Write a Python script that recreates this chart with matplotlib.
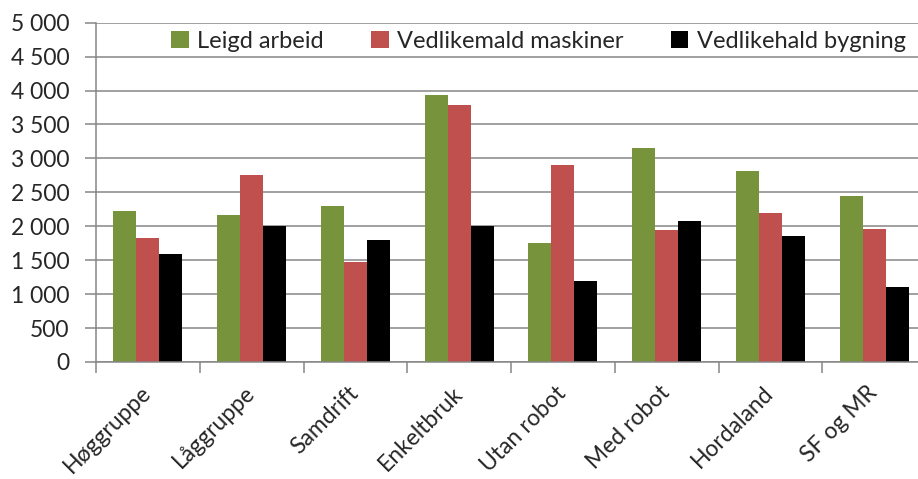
import matplotlib.pyplot as plt
import numpy as np
from matplotlib.ticker import FuncFormatter

plt.rcParams['font.family'] = ['Lato', 'DejaVu Sans']

# data
categories = ["Høggruppe", "Låggruppe", "Samdrift", "Enkeltbruk",
              "Utan robot", "Med robot", "Hordaland", "SF og MR"]
leigd_arbeid = [2230, 2170, 2300, 3940, 1760, 3150, 2810, 2440]
vedl_maskiner = [1830, 2760, 1470, 3780, 2910, 1950, 2190, 1960]
vedl_bygning = [1590, 2000, 1800, 2000, 1190, 2080, 1850, 1100]

series = [
    ("Leigd arbeid", leigd_arbeid, '#77933C'),
    ("Vedlikemald maskiner", vedl_maskiner, '#C0504D'),
    ("Vedlikehald bygning", vedl_bygning, '#000000'),
]

AX_CLR = '#868686'
TXT_CLR = '#262626'

fig = plt.figure(figsize=(9.18, 4.79), dpi=100)
fig.patch.set_facecolor('white')
ax = fig.add_axes([96 / 918, 117 / 479, 830 / 918, 339.3 / 479])

x = np.arange(len(categories))
w = 0.222
for i, (name, vals, clr) in enumerate(series):
    ax.bar(x + (i - 1) * w, vals, w, color=clr, label=name, zorder=3)

ax.set_xlim(-0.5, len(categories) - 0.5)
ax.set_ylim(0, 5000)
ax.set_yticks(np.arange(0, 5001, 500))
ax.yaxis.set_major_formatter(FuncFormatter(lambda v, p: f"{int(v):,}".replace(",", " ")))
ax.grid(axis='y', color=AX_CLR, linewidth=1.1, zorder=0)

# category labels on major ticks, boundary marks on minor ticks
ax.set_xticks(x)
ax.set_xticklabels(categories, rotation=45, ha='right', va='center',
                   rotation_mode='anchor')
ax.set_xticks(np.arange(-0.5, len(categories)), minor=True)
ax.tick_params(axis='x', which='major', length=0, pad=20, labelsize=16.5, labelcolor=TXT_CLR)
ax.tick_params(axis='x', which='minor', length=8, width=1.1, color=AX_CLR)
ax.tick_params(axis='y', length=8, width=1.1, color=AX_CLR, pad=11,
               labelsize=16.5, labelcolor=TXT_CLR)

for side in ['top', 'right']:
    ax.spines[side].set_visible(False)
for side in ['left', 'bottom']:
    ax.spines[side].set_color(AX_CLR)
    ax.spines[side].set_linewidth(1.1)
    ax.spines[side].set_zorder(4)

leg = ax.legend(loc='center', bbox_to_anchor=(0.533, 0.946), ncol=3,
                frameon=False, fontsize=17, handlelength=0.75, handleheight=0.75,
                handletextpad=0.35, columnspacing=2.0, borderaxespad=0)
for t in leg.get_texts():
    t.set_color(TXT_CLR)

fig.savefig('out.png', dpi=100, facecolor='white')
